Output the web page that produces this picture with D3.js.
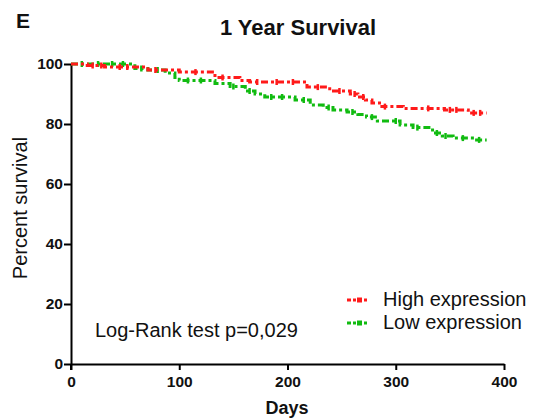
<!DOCTYPE html>
<html><head><meta charset="utf-8">
<script src="https://cdn.jsdelivr.net/npm/d3@7"></script>
<style>body{margin:0;background:#fff}svg{display:block}text{font-family:"Liberation Sans",Arial,sans-serif}</style>
</head><body><svg id="c" width="542" height="419"></svg>
<script>
// Kaplan-Meier step data: [day, percent survival]
const highDays = [0, 15, 31, 71, 100, 133, 156, 165, 218, 239, 258, 265, 272, 278, 285, 307, 345, 367, 384];
const highSurv = [100, 99.5, 99, 98, 97.3, 95.5, 94.5, 94, 92.3, 91, 90, 89, 88, 87, 85.8, 85.2, 84.7, 83.7, 83.7];
const lowDays = [0, 59, 71, 87, 96, 100, 133, 147, 161, 170, 179, 207, 221, 233, 242, 255, 265, 273, 283, 304, 316, 334, 343, 353, 373, 384];
const lowSurv = [100, 98.5, 98, 97, 95.5, 94.5, 93.5, 92.5, 91, 90, 89, 88, 86.3, 85.5, 84.7, 84, 83.2, 82.3, 81, 79.7, 78.8, 77, 76, 75.3, 74.7, 74.7];
const highCensor = [20, 28, 45, 52, 78, 115, 140, 172, 190, 205, 228, 248, 262, 270, 290, 330, 350, 356, 372, 378];
const lowCensor = [10, 25, 38, 48, 65, 80, 108, 120, 150, 165, 185, 195, 215, 238, 260, 278, 300, 320, 338, 346, 362, 377];
const xTicks = [0, 100, 200, 300, 400];
const yTicks = [0, 20, 40, 60, 80, 100];
const seriesNames = ["High expression", "Low expression"];
const seriesColors = ["#ff1a1a", "#11bb11"];

const svg = d3.select("#c");
const x = d3.scaleLinear().domain([0, 400]).range([71, 504]);
const y = d3.scaleLinear().domain([0, 100]).range([364, 64]);

// axes
const xAxis = svg.append("g").attr("transform", "translate(0,364)")
  .call(d3.axisBottom(x).tickValues(xTicks).tickSize(6).tickSizeOuter(0).tickPadding(6));
const yAxis = svg.append("g").attr("transform", "translate(71,0)")
  .call(d3.axisLeft(y).tickValues(yTicks).tickSize(7).tickSizeOuter(0).tickPadding(1));
[xAxis, yAxis].forEach(g => {
  g.select(".domain").attr("stroke", "#000").attr("stroke-width", 2);
  g.selectAll(".tick line").attr("stroke", "#000").attr("stroke-width", 2);
  g.selectAll(".tick text").attr("fill", "#111").attr("font-size", 15.5).attr("font-weight", "bold")
    .attr("font-family", "'Liberation Sans',Arial,sans-serif");
});
// extend y axis slightly below x axis
svg.append("line").attr("x1", 71).attr("x2", 71).attr("y1", 364).attr("y2", 370).attr("stroke", "#000").attr("stroke-width", 2);

const line = d3.line().x(d => x(d[0])).y(d => y(d[1])).curve(d3.curveStepAfter);
const series = [
  { pts: highDays.map((d, i) => [d, highSurv[i]]), censor: highCensor },
  { pts: lowDays.map((d, i) => [d, lowSurv[i]]), censor: lowCensor }
];
function survAt(pts, t) { let v = pts[0][1]; for (const p of pts) { if (p[0] <= t) v = p[1]; } return v; }

[1, 0].forEach(k => {
  const s = series[k], col = seriesColors[k];
  svg.append("path").attr("d", line(s.pts)).attr("fill", "none").attr("stroke", col)
    .attr("stroke-width", 3).attr("stroke-dasharray", "7,3,3,3");
  svg.selectAll(null).data(s.censor).enter().append("line")
    .attr("x1", d => x(d)).attr("x2", d => x(d))
    .attr("y1", d => y(survAt(s.pts, d)) - 3).attr("y2", d => y(survAt(s.pts, d)) + 3)
    .attr("stroke", col).attr("stroke-width", 2.5);
});

// legend
seriesNames.forEach((n, i) => {
  const ly = 300 + i * 23;
  svg.append("line").attr("x1", 347).attr("x2", 367).attr("y1", ly).attr("y2", ly)
    .attr("stroke", seriesColors[i]).attr("stroke-width", 3).attr("stroke-dasharray", "4,2,3,2");
  svg.append("rect").attr("x", 357).attr("y", ly - 2.5).attr("width", 5).attr("height", 5).attr("fill", seriesColors[i]);
  svg.append("text").attr("x", 383).attr("y", ly + 6).attr("font-size", 20).attr("fill", "#111").text(n);
});

svg.append("text").attr("x", 95).attr("y", 337).attr("font-size", 20).attr("fill", "#111").text("Log-Rank test p=0,029");
svg.append("text").attr("x", 298).attr("y", 35).attr("text-anchor", "middle").attr("font-size", 22).attr("font-weight", "bold").attr("fill", "#111").text("1 Year Survival");
svg.append("text").attr("x", 16).attr("y", 28).attr("font-size", 21).attr("font-weight", "bold").attr("fill", "#111").text("E");
svg.append("text").attr("x", 287).attr("y", 414).attr("text-anchor", "middle").attr("font-size", 18).attr("font-weight", "bold").attr("fill", "#111").text("Days");
svg.append("text").attr("transform", "translate(27,208) rotate(-90)").attr("text-anchor", "middle").attr("font-size", 20).attr("fill", "#111").text("Percent survival");
</script></body></html>
